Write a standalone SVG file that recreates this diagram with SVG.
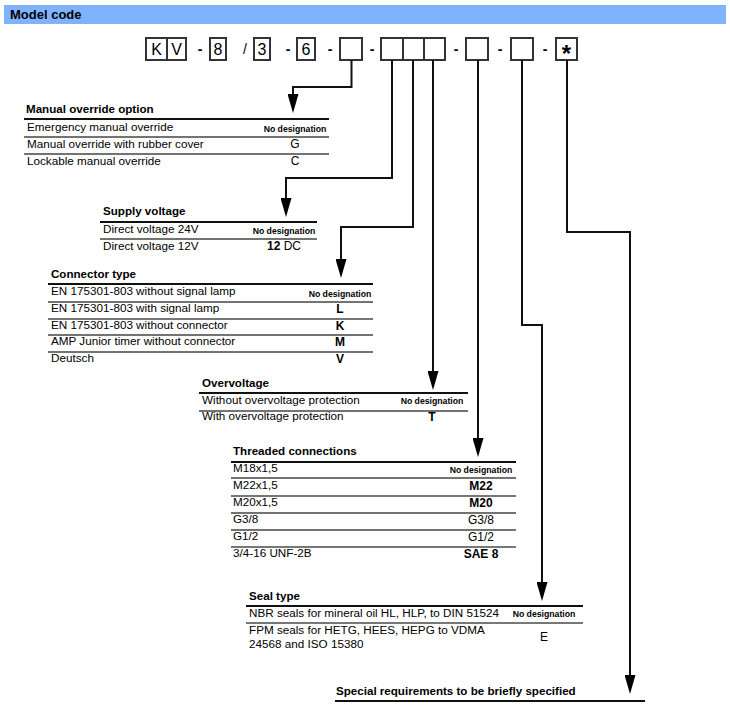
<svg xmlns="http://www.w3.org/2000/svg" width="730" height="715" viewBox="0 0 730 715">
<style>
text{font-family:"Liberation Sans",Arial,sans-serif;fill:#000}
.hdr{font-size:13px;font-weight:bold}
.ttl{font-size:11.6px;font-weight:bold}
.row{font-size:11.7px}
.nd{font-size:8.7px;font-weight:bold;text-anchor:middle}
.dv{font-size:12px;text-anchor:middle}
.b{font-weight:bold}
.box{fill:#fff;stroke:#333;stroke-width:2}
.bt{font-size:16px;text-anchor:middle}
.dash{font-size:14px;font-weight:bold;text-anchor:middle}
.top{stroke:#111;stroke-width:2}
.sep{stroke:#444;stroke-width:1.3}
.con{fill:none;stroke:#111;stroke-width:2;marker-end:url(#ah)}
</style>
<defs>
<marker id="ah" viewBox="0 0 19 11" refX="9" refY="5.5" markerWidth="19" markerHeight="11" markerUnits="userSpaceOnUse" orient="auto">
<path d="M0,0 L19,5.5 L0,11 z" fill="#000"/>
</marker>
</defs>
<rect width="730" height="715" fill="#fff"/>
<g id="header">
<rect x="4" y="5" width="722" height="19" fill="#80b3ff"/>
<text class="hdr" x="10" y="19">Model code</text>
</g>
<g id="code">
<rect class="box" x="146" y="38" width="21" height="22"/>
<rect class="box" x="167" y="38" width="19" height="22"/>
<text class="bt" x="156.5" y="55">K</text>
<text class="bt" x="176.5" y="55">V</text>
<text class="dash" x="200" y="54">-</text>
<rect class="box" x="210" y="38" width="16" height="22"/>
<text class="bt" x="218" y="55">8</text>
<text class="dash" x="245" y="54" style="font-weight:normal">/</text>
<rect class="box" x="254" y="38" width="16" height="22"/>
<text class="bt" x="262" y="55">3</text>
<text class="dash" x="288" y="54">-</text>
<rect class="box" x="297" y="38" width="18" height="22"/>
<text class="bt" x="306" y="55">6</text>
<text class="dash" x="330" y="54">-</text>
<rect class="box" x="340" y="38" width="22" height="22"/>
<text class="dash" x="372" y="54">-</text>
<rect class="box" x="381" y="38" width="22" height="22"/>
<rect class="box" x="403" y="38" width="21" height="22"/>
<rect class="box" x="424" y="38" width="21" height="22"/>
<text class="dash" x="456" y="54">-</text>
<rect class="box" x="466" y="38" width="22" height="22"/>
<text class="dash" x="500" y="54">-</text>
<rect class="box" x="511" y="38" width="22" height="22"/>
<text class="dash" x="545" y="54">-</text>
<rect class="box" x="556" y="38" width="21" height="22"/>
<text x="566.5" y="62" style="font-size:24px;font-weight:bold;text-anchor:middle">*</text>
</g>
<g id="connectors">
<path class="con" d="M351.5,60 V87 H293 V103"/>
<path class="con" d="M392,60 V178 H286 V207"/>
<path class="con" d="M413,60 V227 H341 V268"/>
<path class="con" d="M433,60 V380"/>
<path class="con" d="M478,60 V447"/>
<path class="con" d="M522,60 V325 H542 V591"/>
<path class="con" d="M567,60 V232 H630 V684"/>
</g>
<g id="manual-override">
<text class="ttl" x="26" y="113">Manual override option</text>
<line class="top" x1="24" y1="119" x2="329" y2="119"/>
<text class="row" x="27" y="131">Emergency manual override</text>
<text class="nd" x="295" y="132">No designation</text>
<line class="sep" x1="24" y1="137" x2="329" y2="137"/>
<text class="row" x="27" y="148">Manual override with rubber cover</text>
<text class="dv" x="295" y="148">G</text>
<line class="sep" x1="24" y1="154" x2="329" y2="154"/>
<text class="row" x="27" y="165">Lockable manual override</text>
<text class="dv" x="295" y="165">C</text>
</g>
<g id="supply-voltage">
<text class="ttl" x="103" y="215">Supply voltage</text>
<line class="top" x1="100" y1="222" x2="317" y2="222"/>
<text class="row" x="103" y="233">Direct voltage 24V</text>
<text class="nd" x="284" y="234">No designation</text>
<line class="sep" x1="100" y1="239" x2="317" y2="239"/>
<text class="row" x="103" y="250">Direct voltage 12V</text>
<text class="dv" x="284" y="250"><tspan class="b">12</tspan> DC</text>
</g>
<g id="connector-type">
<text class="ttl" x="51" y="278">Connector type</text>
<line class="top" x1="48" y1="284" x2="373" y2="284"/>
<text class="row" x="51" y="295">EN 175301-803 without signal lamp</text>
<text class="nd" x="340" y="297">No designation</text>
<line class="sep" x1="48" y1="302" x2="373" y2="302"/>
<text class="row" x="51" y="312">EN 175301-803 with signal lamp</text>
<text class="dv b" x="340" y="313">L</text>
<line class="sep" x1="48" y1="319" x2="373" y2="319" style="stroke:#777;stroke-width:2"/>
<text class="row" x="51" y="329">EN 175301-803 without connector</text>
<text class="dv b" x="340" y="330">K</text>
<line class="sep" x1="48" y1="335" x2="373" y2="335"/>
<text class="row" x="51" y="345">AMP Junior timer without connector</text>
<text class="dv b" x="340" y="346">M</text>
<line class="sep" x1="48" y1="352" x2="373" y2="352"/>
<text class="row" x="51" y="362">Deutsch</text>
<text class="dv b" x="340" y="363">V</text>
</g>
<g id="overvoltage">
<text class="ttl" x="202" y="387">Overvoltage</text>
<line class="top" x1="199" y1="393" x2="468" y2="393"/>
<text class="row" x="202" y="404">Without overvoltage protection</text>
<text class="nd" x="432" y="404">No designation</text>
<line class="sep" x1="199" y1="411" x2="468" y2="411"/>
<text class="row" x="202" y="420">With overvoltage protection</text>
<text class="dv b" x="432" y="421">T</text>
</g>
<g id="threaded-connections">
<text class="ttl" x="233" y="455">Threaded connections</text>
<line class="top" x1="231" y1="462" x2="516" y2="462"/>
<text class="row" x="233" y="472">M18x1,5</text>
<text class="nd" x="481" y="473">No designation</text>
<line class="sep" x1="231" y1="478" x2="516" y2="478"/>
<text class="row" x="233" y="489">M22x1,5</text>
<text class="dv b" x="481" y="490">M22</text>
<line class="sep" x1="231" y1="496" x2="516" y2="496" style="stroke:#777;stroke-width:2"/>
<text class="row" x="233" y="506">M20x1,5</text>
<text class="dv b" x="481" y="507">M20</text>
<line class="sep" x1="231" y1="513" x2="516" y2="513"/>
<text class="row" x="233" y="523">G3/8</text>
<text class="dv" x="481" y="524">G3/8</text>
<line class="sep" x1="231" y1="530" x2="516" y2="530"/>
<text class="row" x="233" y="540">G1/2</text>
<text class="dv" x="481" y="541">G1/2</text>
<line class="sep" x1="231" y1="547" x2="516" y2="547" style="stroke:#777;stroke-width:2"/>
<text class="row" x="233" y="557">3/4-16 UNF-2B</text>
<text class="dv b" x="481" y="558">SAE 8</text>
</g>
<g id="seal-type">
<text class="ttl" x="249" y="600">Seal type</text>
<line class="top" x1="246" y1="606" x2="583" y2="606"/>
<text class="row" x="249" y="617">NBR seals for mineral oil HL, HLP, to DIN 51524</text>
<text class="nd" x="544" y="617">No designation</text>
<line class="sep" x1="246" y1="623" x2="583" y2="623" style="stroke:#777;stroke-width:2"/>
<text class="row" x="249" y="634">FPM seals for HETG, HEES, HEPG to VDMA</text>
<text class="row" x="249" y="648">24568 and ISO 15380</text>
<text class="dv" x="544" y="641">E</text>
</g>
<g id="special">
<text class="ttl" x="336" y="695">Special requirements to be briefly specified</text>
<line class="top" x1="335" y1="701" x2="645" y2="701"/>
</g>
</svg>
